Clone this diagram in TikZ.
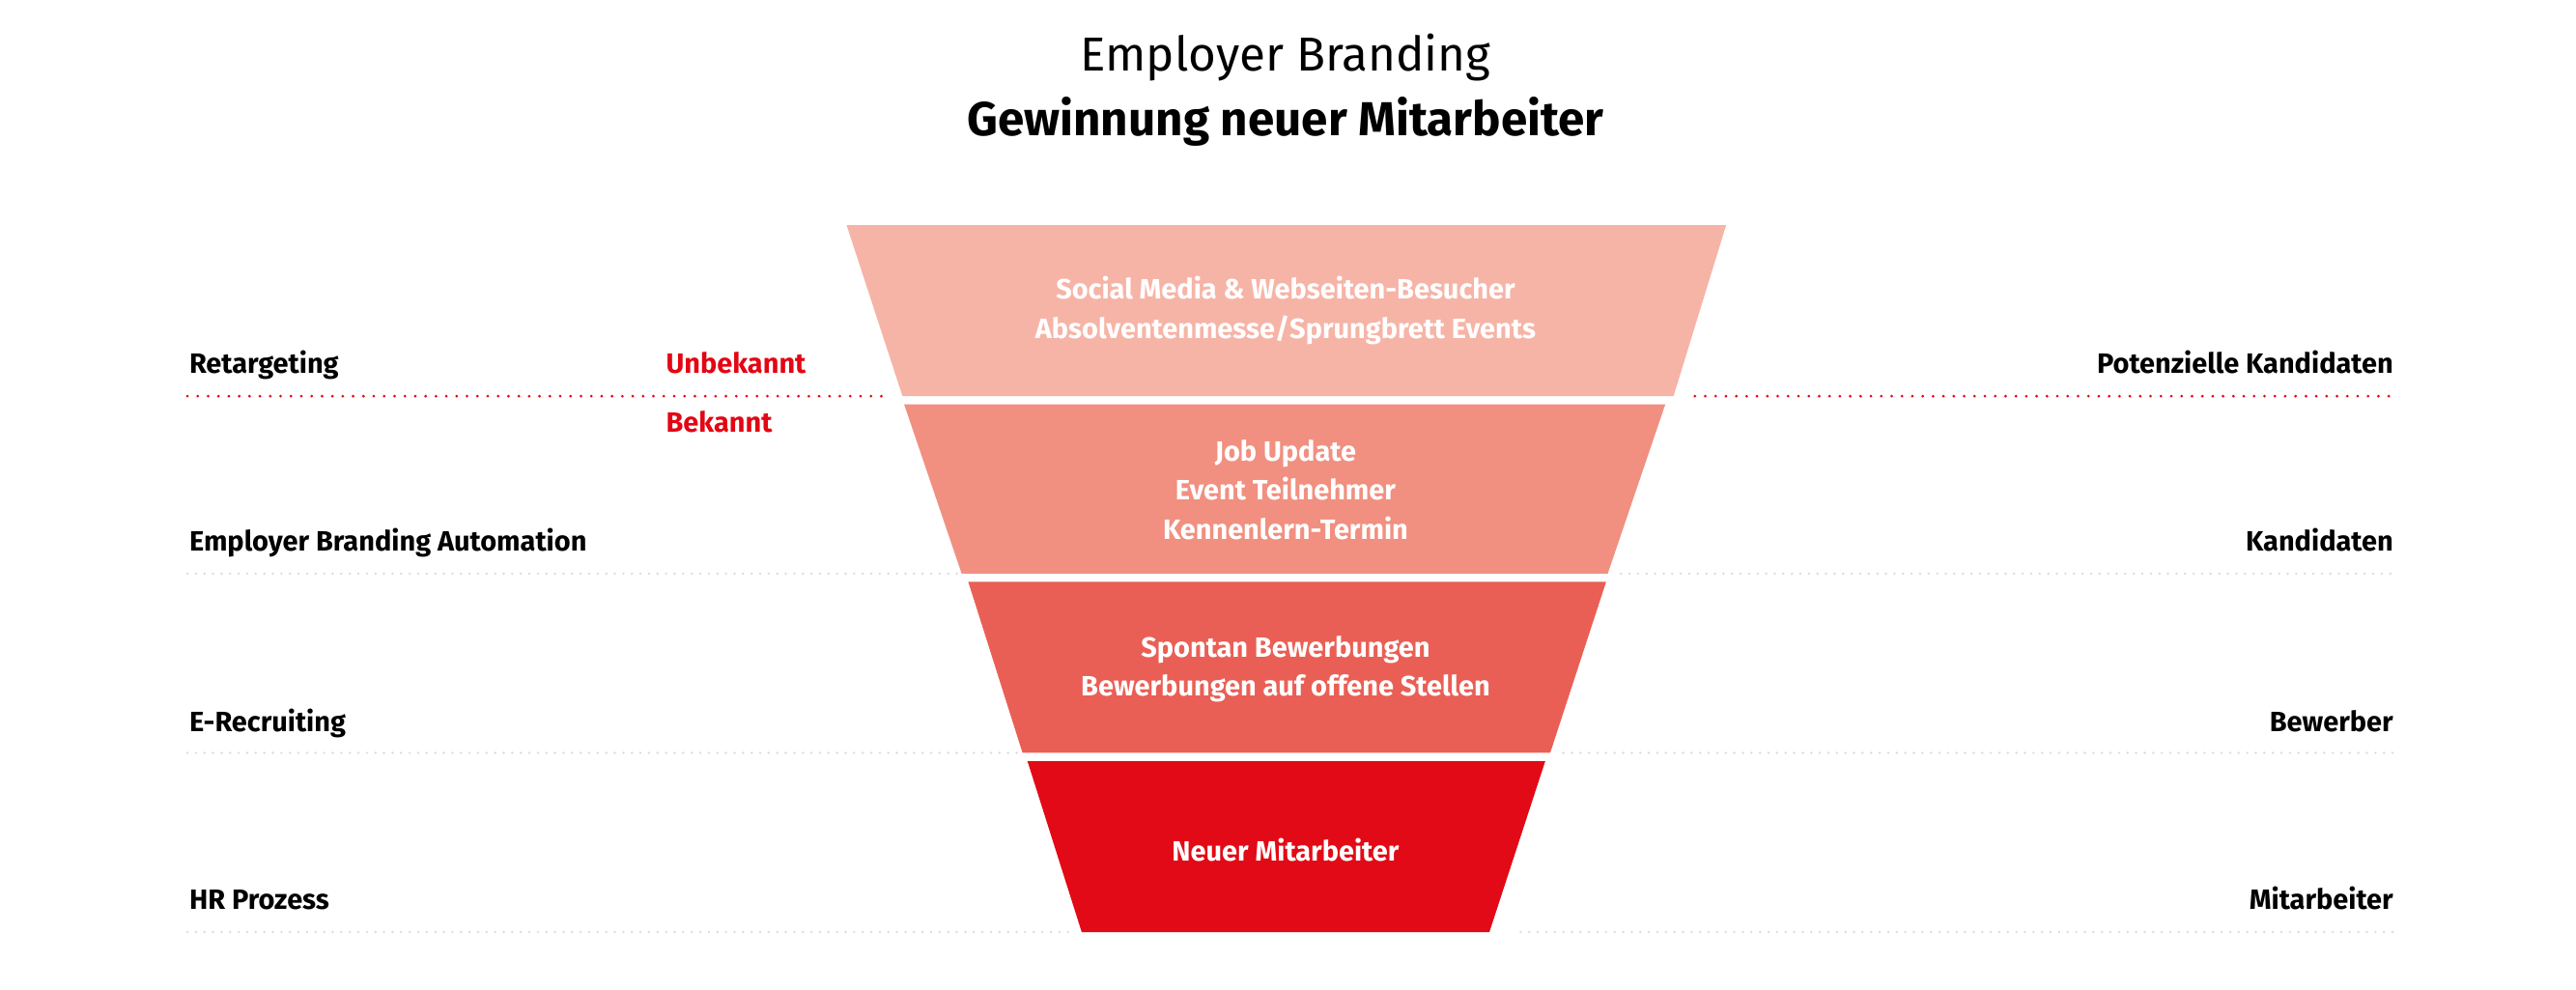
\documentclass[tikz,border=0pt]{standalone}
\usepackage{fontspec}
\setmainfont{Fira Sans}
\definecolor{cA}{HTML}{F6B4A7}
\definecolor{cB}{HTML}{F19080}
\definecolor{cC}{HTML}{EA5F55}
\definecolor{cD}{HTML}{E20A16}
\definecolor{rtxt}{HTML}{E30613}
\definecolor{gdot}{HTML}{DCDCDC}
\begin{document}
\begin{tikzpicture}[x=1pt,y=1pt,
  lab/.style={font=\fontsize{17}{20}\selectfont\bfseries, inner sep=0pt},
  ftxt/.style={font=\fontsize{17}{24}\selectfont\bfseries, text=white, align=center, inner sep=0pt},
  gline/.style={gdot, line width=1.6pt, dash pattern=on 0pt off 5.2pt, line cap=round},
  rline/.style={rtxt, line width=1.8pt, dash pattern=on 0pt off 6.3pt, line cap=round}]
\useasboundingbox (0,0) rectangle (1567,602);
% title
\node[font=\fontsize{29}{34}\selectfont, inner sep=0pt] (t1) at (782,567) {Employer Branding};
\node[font=\fontsize{29}{34}\selectfont\bfseries, inner sep=0pt] (t2) at (782,528) {Gewinnung neuer Mitarbeiter};
% funnel
\fill[cA] (515,465) -- (1050,465) -- (1018,361) -- (549,361) -- cycle;
\fill[cB] (550,356) -- (1013,356) -- (978,253) -- (585,253) -- cycle;
\fill[cC] (589,248) -- (977,248) -- (943,144) -- (622,144) -- cycle;
\fill[cD] (625,139) -- (940,139) -- (906,35) -- (658,35) -- cycle;
\node[ftxt] (f1) at (782,413) {Social Media \& Webseiten-Besucher\\Absolventenmesse/Sprungbrett Events};
\node[ftxt] (f2) at (782,304) {Job Update\\Event Teilnehmer\\Kennenlern-Termin};
\node[ftxt] (f3) at (782,195) {Spontan Bewerbungen\\Bewerbungen auf offene Stellen};
\node[ftxt] (f4) at (782,85) {Neuer Mitarbeiter};
% lines
\draw[rline] (114,361) -- (540,361);
\draw[rline] (1031,361) -- (1456,361);
\draw[gline] (114,253) -- (583,253);
\draw[gline] (986,253) -- (1456,253);
\draw[gline] (114,144) -- (620,144);
\draw[gline] (951,144) -- (1456,144);
\draw[gline] (114,35) -- (650,35);
\draw[gline] (925,35) -- (1456,35);
% labels
\node[lab, anchor=base west] (l1) at (115,375) {Retargeting};
\node[lab, anchor=base west] (l2) at (115,267) {Employer Branding Automation};
\node[lab, anchor=base west] (l3) at (115,157) {E-Recruiting};
\node[lab, anchor=base west] (l4) at (115,49) {HR Prozess};
\node[lab, anchor=base west, text=rtxt] (u) at (405,375) {Unbekannt};
\node[lab, anchor=base west, text=rtxt] (b) at (405,339) {Bekannt};
\node[lab, anchor=base east] (r1) at (1456,375) {Potenzielle Kandidaten};
\node[lab, anchor=base east] (r2) at (1456,267) {Kandidaten};
\node[lab, anchor=base east] (r3) at (1456,157) {Bewerber};
\node[lab, anchor=base east] (r4) at (1456,49) {Mitarbeiter};
\end{tikzpicture}
\end{document}
